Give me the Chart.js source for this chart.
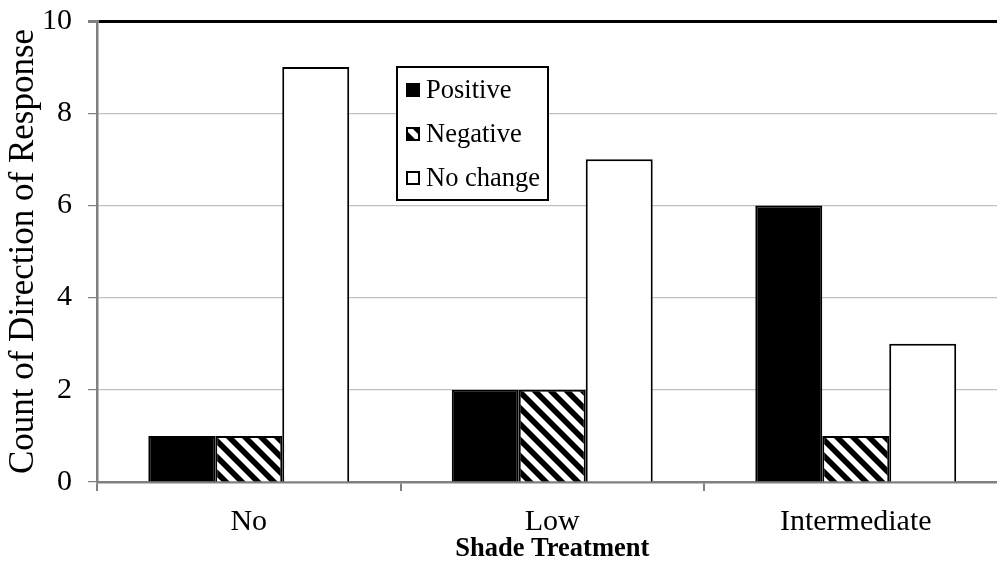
<!DOCTYPE html>
<html>
<head>
<meta charset="utf-8">
<script src="https://cdn.jsdelivr.net/npm/chart.js@4/dist/chart.umd.min.js"></script>
<style>
  html, body { margin: 0; padding: 0; overflow: hidden; background: #fff; }
  canvas { display: block; }
</style>
</head>
<body>
<canvas id="chart" width="1010" height="561"></canvas>
<script>
// Shade treatment groups and counts of response direction
const categories = ['No', 'Low', 'Intermediate'];
const seriesNames = ['Positive', 'Negative', 'No change'];
const positiveCounts = [1, 2, 6];
const negativeCounts = [1, 2, 1];
const noChangeCounts = [9, 7, 3];
const yMin = 0;
const yMax = 10;
const yStep = 2;

const SERIF = '"Liberation Serif", "Times New Roman", serif';

// Diagonal black/white stripe fill for the "Negative" series
function makeStripePattern() {
  const s = 16;
  const tile = document.createElement('canvas');
  tile.width = s; tile.height = s;
  const t = tile.getContext('2d');
  t.fillStyle = '#fff';
  t.fillRect(0, 0, s, s);
  t.strokeStyle = '#000';
  t.lineWidth = s / Math.SQRT2 / 2;
  t.beginPath();
  for (const k of [-s, 0, s]) {
    t.moveTo(k - s, -s);
    t.lineTo(k + 2 * s, 2 * s);
  }
  t.stroke();
  return document.createElement('canvas').getContext('2d').createPattern(tile, 'repeat');
}
const stripes = makeStripePattern();

const fills = ['#000000', stripes, '#ffffff'];

// Boxed legend drawn inside the plot area
const innerLegend = {
  id: 'innerLegend',
  afterDraw(chart) {
    const ctx = chart.ctx;
    const area = chart.chartArea;
    const x0 = area.left + 300;
    const y0 = area.top + 46;
    const w = 151, h = 133;
    ctx.save();
    ctx.fillStyle = '#fff';
    ctx.fillRect(x0, y0, w, h);
    ctx.strokeStyle = '#000';
    ctx.lineWidth = 2;
    ctx.strokeRect(x0, y0, w, h);
    ctx.font = '26.5px ' + SERIF;
    ctx.textBaseline = 'middle';
    ctx.textAlign = 'left';
    chart.data.datasets.forEach((ds, i) => {
      const cy = y0 + 23 + i * 44;
      const mx = x0 + 9, my = cy - 7, ms = 14;
      ctx.fillStyle = ds.backgroundColor;
      ctx.fillRect(mx, my, ms, ms);
      ctx.lineWidth = 2;
      ctx.strokeStyle = '#000';
      ctx.strokeRect(mx + 1, my + 1, ms - 2, ms - 2);
      ctx.fillStyle = '#000';
      ctx.fillText(ds.label, x0 + 29, cy + 1);
    });
    ctx.restore();
  }
};

const seriesValues = [positiveCounts, negativeCounts, noChangeCounts];

new Chart(document.getElementById('chart'), {
  type: 'bar',
  data: {
    labels: categories,
    datasets: seriesNames.map((name, i) => ({
      label: name,
      data: seriesValues[i],
      backgroundColor: fills[i],
      borderColor: '#000',
      borderWidth: 2,
      borderSkipped: 'start',
      categoryPercentage: 0.662,
      barPercentage: 1.0
    }))
  },
  options: {
    responsive: false,
    animation: false,
    layout: { padding: { top: 21, right: 2.5, left: 0, bottom: 0 } },
    plugins: {
      legend: { display: false },
      tooltip: { enabled: false }
    },
    scales: {
      x: {
        afterFit(scale) { scale.height = 79; },
        grid: {
          offset: true,
          drawOnChartArea: false,
          drawTicks: true,
          tickLength: 9,
          color: '#808080',
          lineWidth: 2
        },
        border: { display: true, color: '#808080', width: 2.5 },
        ticks: {
          color: '#000',
          font: { family: SERIF, size: 30 },
          padding: 13,
          maxRotation: 0
        },
        title: {
          display: true,
          text: 'Shade Treatment',
          color: '#000',
          font: { family: SERIF, size: 26.5, weight: 'bold' },
          padding: { top: 0, bottom: -4 }
        }
      },
      y: {
        min: yMin,
        max: yMax,
        afterFit(scale) {
          scale.width = 97;
          // let the top tick label overhang the plot instead of pushing it down
          scale.paddingTop = 0;
          scale.paddingBottom = 0;
        },
        grid: {
          color: (c) => (c.tick && c.tick.value === yMax ? '#000' : '#c0c0c0'),
          lineWidth: (c) => (c.tick && c.tick.value === yMax ? 3 : 1.2),
          tickColor: '#808080',
          tickLength: 9,
          drawTicks: true
        },
        border: { display: true, color: '#808080', width: 2.5 },
        ticks: {
          stepSize: yStep,
          color: '#000',
          font: { family: SERIF, size: 30 },
          padding: 16
        },
        title: {
          display: true,
          text: 'Count of Direction of Response',
          color: '#000',
          font: { family: SERIF, size: 35 },
          padding: { top: 3, bottom: 0 }
        }
      }
    }
  },
  plugins: [innerLegend]
});
</script>
</body>
</html>
